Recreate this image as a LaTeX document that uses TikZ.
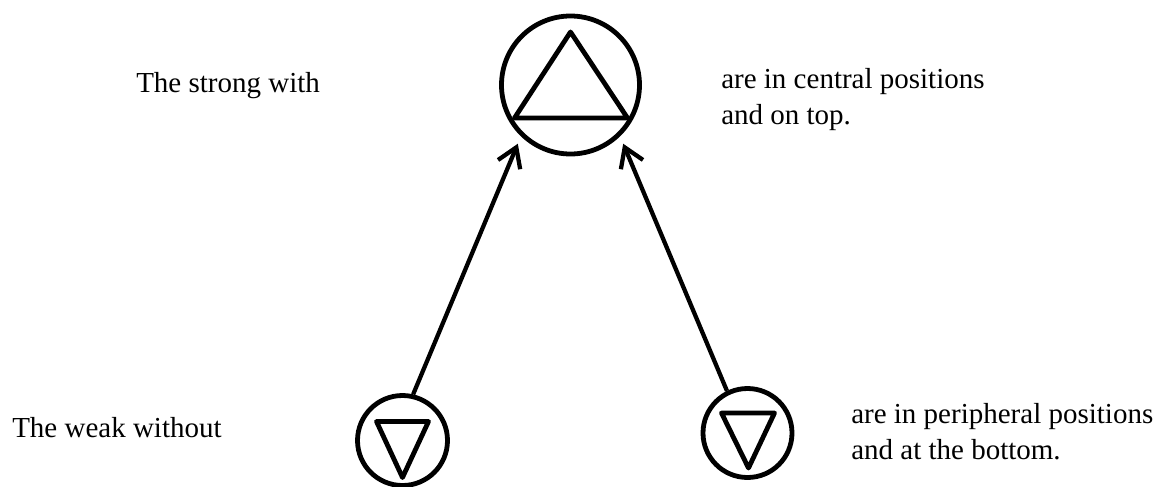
\documentclass[tikz,border=0pt]{standalone}
\usepackage{fontspec}
\setmainfont{Liberation Serif}
\usetikzlibrary{arrows.meta,calc}

\tikzset{
  ring/.style={draw, circle, line width=3.6pt, inner sep=0pt},
  tri/.style={line width=3.6pt, line join=round},
  push/.style={line width=3.2pt, -{Straight Barb[length=14pt,width=18pt]}, shorten >=6pt},
  caption/.style={anchor=base west, align=left, inner sep=0pt, font=\fontsize{21.75}{27}\selectfont},
}

\begin{document}
\begin{tikzpicture}[x=0.75pt, y=-0.75pt]
  \useasboundingbox (0,0) rectangle (1163,486);

  % Circles (top: strong, bottom: weak)
  \node[ring, minimum size=103.5pt] (strong) at (570.5,85) {};
  \node[ring, minimum size=67.5pt] (weakL) at (402.5,440.5) {};
  \node[ring, minimum size=66.75pt] (weakR) at (747.5,433) {};

  % Triangle pointing up in the top circle
  \draw[tri] (strong.center) ++(0,-53) -- ++(57,86) -- ++(-113,0) -- cycle;

  % Triangles pointing down in the bottom circles
  \draw[tri] (weakL.center) ++(-26,-19) -- ++(52,0) -- ++(-26,56) -- cycle;
  \draw[tri] (weakR.center) ++(-26,-20) -- ++(53,0) -- ++(-26,55) -- cycle;

  % Arrows upward
  \draw[push] (weakL.77) -- (strong.226);
  \draw[push] (weakR.116) -- (strong.314);

  % Labels (two-line nodes sit on their last baseline)
  \node[caption] (strongtxt) at (136,92) {The strong with};
  \node[caption] (strongnote) at (721,124) {are in central positions\\and on top.};
  \node[caption] (weaktxt) at (12,437) {The weak without};
  \node[caption] (weaknote) at (851,459) {are in peripheral positions\\and at the bottom.};
\end{tikzpicture}
\end{document}
